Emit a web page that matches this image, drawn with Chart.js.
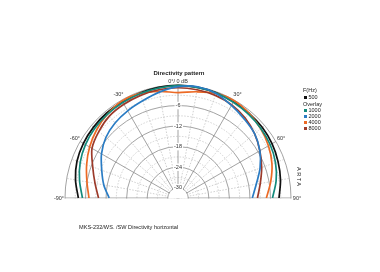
<!DOCTYPE html>
<html>
<head>
<meta charset="utf-8">
<script src="https://cdn.jsdelivr.net/npm/chart.js@4"></script>
<style>
  html, body { margin: 0; padding: 0; background: #fff; }
  #wrap { position: relative; width: 380px; height: 272px; overflow: hidden;
          font-family: "Liberation Sans", Arial, sans-serif; color: #222; }
  #myChart { position: absolute; left: 0; top: 0; }
  .t { position: absolute; white-space: nowrap; line-height: 1; }
  .sq { display: inline-block; width: 3px; height: 3px; margin-right: 1.5px; vertical-align: 0.5px; }
</style>
</head>
<body>
<div id="wrap">
  <canvas id="myChart" width="380" height="330"></canvas>
  <div class="t" style="left:179px; top:70px; transform:translateX(-50%); font-size:6px; font-weight:bold;">Directivity pattern</div>

  <div class="t" style="left:303px; top:88px; font-size:5.5px;">F(Hz)</div>
  <div class="t" style="left:304px; top:95px; font-size:5.5px;"><span class="sq" style="background:#111"></span>500</div>
  <div class="t" style="left:303px; top:102px; font-size:5.5px;">Overlay</div>
  <div class="t" style="left:304px; top:108px; font-size:5.5px;"><span class="sq" style="background:#138a7c"></span>1000</div>
  <div class="t" style="left:304px; top:114px; font-size:5.5px;"><span class="sq" style="background:#2a7cc4"></span>2000</div>
  <div class="t" style="left:304px; top:120px; font-size:5.5px;"><span class="sq" style="background:#ec6a25"></span>4000</div>
  <div class="t" style="left:304px; top:126px; font-size:5.5px;"><span class="sq" style="background:#9c3a2a"></span>8000</div>

  <div class="t" style="left:295px; top:167px; font-size:5.5px; writing-mode:vertical-rl; letter-spacing:1.6px;">ARTA</div>

  <div class="t" style="left:79px; top:225px; font-size:5.6px;">MKS-232/WS. /SW Directivity horizontal</div>
</div>
<script>
// measurement angles (deg) and levels (dB) per frequency
var angles = [-90, -80, -70, -60, -50, -40, -30, -20, -10, 0, 10, 20, 30, 40, 50, 60, 70, 80, 90];
var f500  = [-3.9, -2.6, -1.6, -1.1, -0.8, -0.6, -0.5, -0.4, -0.2, -0.1, -0.2, -0.3, -0.5, -0.7, -0.9, -1.3, -1.9, -2.6, -3.5];
var f1000 = [-5.1, -3.8, -2.6, -1.8, -1.3, -1.0, -0.8, -0.6, -0.4, -0.2, -0.2, -0.4, -0.7, -1.0, -1.4, -1.9, -2.7, -3.9, -5.4];
var f2000 = [-12.9, -11.0, -9.3, -7.2, -5.5, -4.4, -3.6, -2.8, -1.6, -0.5, 0, -0.5, -1.8, -2.9, -3.8, -5.4, -7.5, -9.8, -11.3];
var f4000 = [-7.0, -6.0, -4.6, -3.2, -2.0, -1.0, -0.3, -0.5, -1.4, -2.2, -1.5, -0.5, -0.2, -0.7, -1.5, -2.5, -3.8, -5.5, -7.2];
var f8000 = [-9.8, -8.4, -6.5, -4.0, -2.8, -1.8, -1.4, -1.1, -0.9, -0.8, -0.9, -1.1, -1.6, -2.5, -3.8, -5.4, -7.0, -8.6, -9.8];

var angleTicks = [-90, -60, -30, 0, 30, 60, 90];
var dbTicks = [-30, -24, -18, -12, -6];

// full circle of 10 deg spokes, 0 at the top
var spokes = [];
for (var a = 0; a < 360; a += 10) spokes.push(a);

function toRing(series) {
  return spokes.map(function (s) {
    var d = s > 180 ? s - 360 : s;
    var k = angles.indexOf(d);
    return k < 0 ? null : series[k];
  });
}

var halfPlane = {
  id: 'halfPlane',
  beforeDraw: function (chart) {
    var r = chart.scales.r, ctx = chart.ctx;
    ctx.save();
    ctx.beginPath();
    ctx.rect(0, 0, chart.width, r.yCenter + 0.5);
    ctx.clip();
  },
  beforeDatasetsDraw: function (chart) {
    var r = chart.scales.r, ctx = chart.ctx;
    var hole = r.getDistanceFromCenterForValue(-30) - 0.7;
    ctx.save();
    ctx.fillStyle = '#fff';
    ctx.beginPath();
    ctx.arc(r.xCenter, r.yCenter, hole, 0, Math.PI * 2);
    ctx.fill();
    ctx.restore();
  },
  afterDraw: function (chart) {
    var r = chart.scales.r, ctx = chart.ctx;
    ctx.restore();
    ctx.save();
    ctx.font = '5.5px "Liberation Sans", Arial, sans-serif';
    ctx.fillStyle = '#333';
    ctx.textAlign = 'center';
    ctx.textBaseline = 'middle';
    angleTicks.forEach(function (a) {
      var idx = spokes.indexOf(a < 0 ? a + 360 : a);
      var p = r.getPointPosition(idx, r.drawingArea + (a === 0 ? 4 : 6));
      ctx.fillText(a === 0 ? '0°/ 0 dB' : a + '°', p.x, p.y);
    });
    ctx.restore();
  }
};

function ds(label, data, color) {
  return {
    label: label, data: toRing(data), borderColor: color, backgroundColor: color,
    borderWidth: 1.7, pointRadius: 0, fill: false, tension: 0.3, spanGaps: false, clip: false
  };
}

var ctx = document.getElementById('myChart');
var myChart = new Chart(ctx, {
  type: 'radar',
  data: {
    labels: spokes,
    datasets: [
      ds('2000', f2000, '#2a7cc4'),
      ds('8000', f8000, '#9c3a2a'),
      ds('1000', f1000, '#138a7c'),
      ds('4000', f4000, '#ec6a25'),
      ds('500', f500, '#111111')
    ]
  },
  plugins: [halfPlane],
  options: {
    responsive: false,
    animation: false,
    layout: { padding: { left: 61, right: 85, top: 81, bottom: 15 } },
    plugins: { legend: { display: false }, tooltip: { enabled: false }, title: { display: false } },
    scales: {
      r: {
        min: -33,
        max: 0,
        startAngle: 0,
        pointLabels: { display: false },
        angleLines: {
          color: function (c) { return (c.index * 10) % 30 === 0 ? '#8c8c8c' : '#c4c4c4'; },
          borderDash: function (c) { return (c.index * 10) % 30 === 0 ? [] : [1.5, 1.5]; },
          lineWidth: 0.8
        },
        grid: {
          circular: true,
          color: function (c) { return c.tick && c.tick.value % 6 === 0 ? '#8c8c8c' : '#c8c8c8'; },
          lineWidth: 0.8
        },
        border: {
          dash: function (c) { return c.tick && c.tick.value % 6 === 0 ? [] : [1.5, 1.5]; }
        },
        ticks: {
          stepSize: 3,
          z: 1,
          font: { size: 5.5, family: '"Liberation Sans", Arial, sans-serif' },
          color: '#333',
          showLabelBackdrop: true,
          backdropPadding: 1,
          backdropColor: function (c) { return c.tick && dbTicks.indexOf(c.tick.value) >= 0 ? '#fff' : 'rgba(255,255,255,0)'; },
          callback: function (v) { return dbTicks.indexOf(v) >= 0 ? String(v) : ''; }
        }
      }
    }
  }
});
</script>
</body>
</html>
